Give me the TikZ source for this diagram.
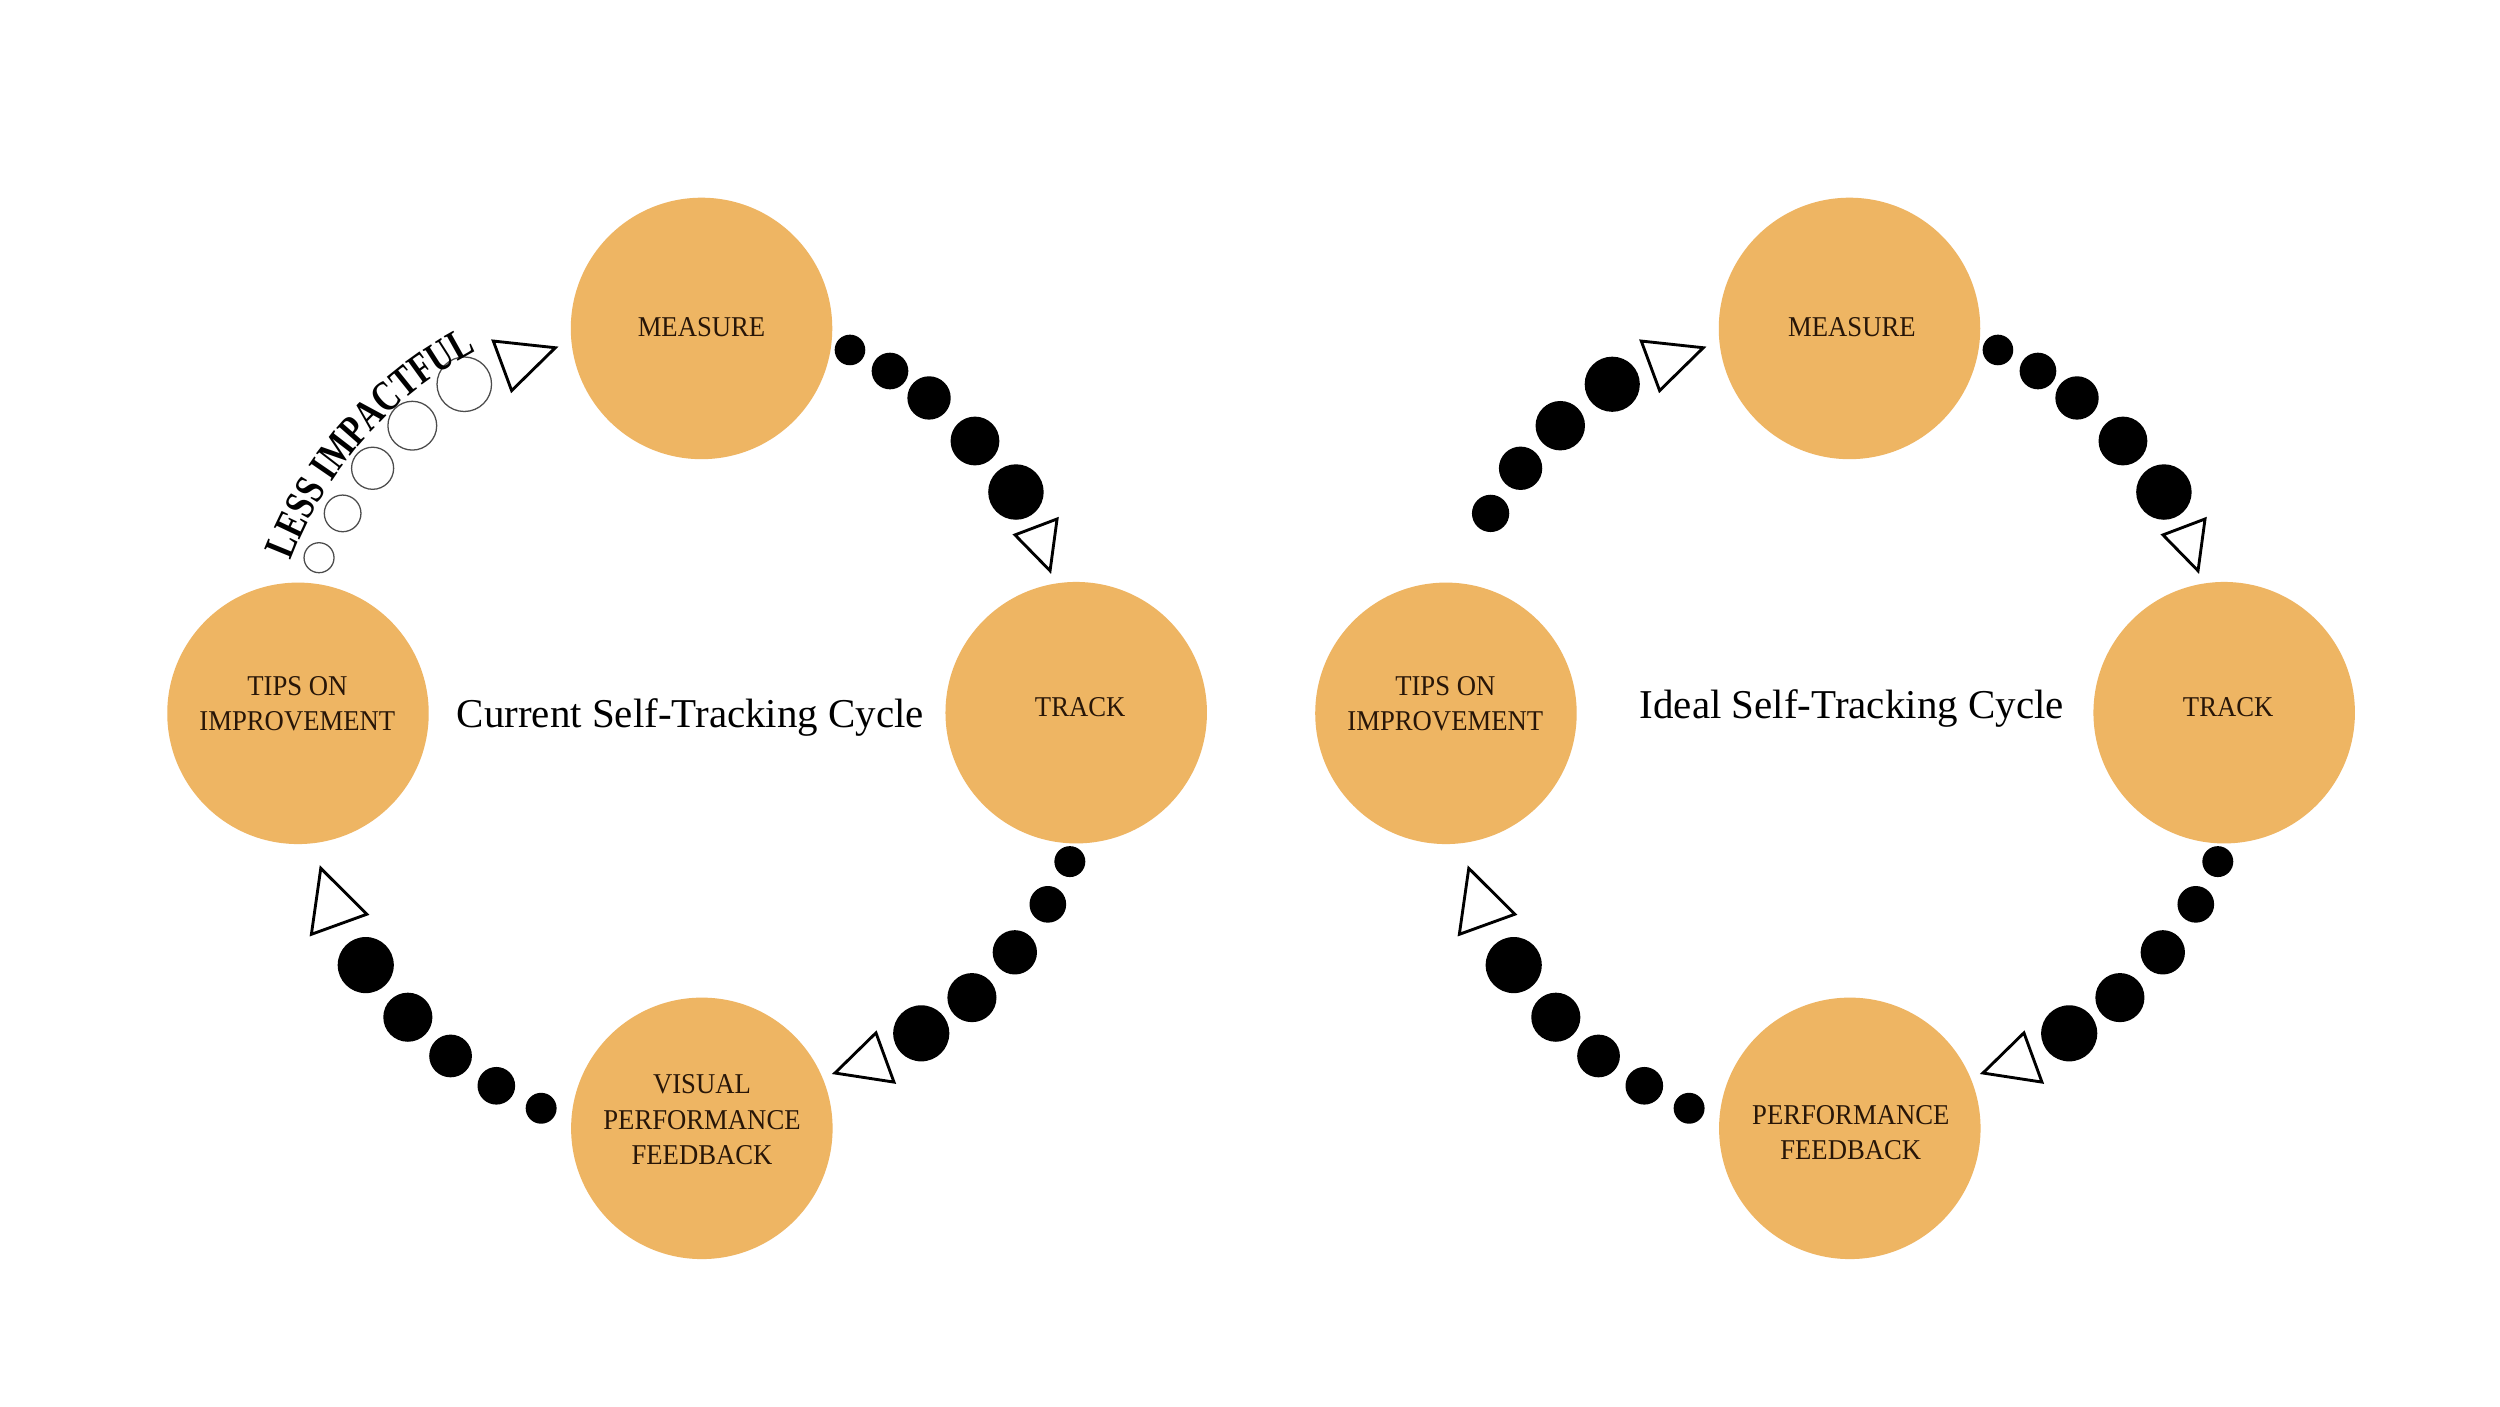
\documentclass[tikz,border=0pt]{standalone}
\usepackage{fontspec}
\setmainfont{Liberation Serif}
\newfontfamily\lblfont[FakeStretch=0.93]{Liberation Serif}
\newfontfamily\lessfont[FakeStretch=0.76]{Liberation Serif}
\usetikzlibrary{decorations.text}
\definecolor{orangefill}{RGB}{238,181,99}
\definecolor{lbltext}{RGB}{40,22,8}
\tikzset{
  stage/.style={circle, fill=orangefill, draw=none, minimum size=164pt, inner sep=0pt},
  lbl/.style={font=\lblfont\fontsize{18}{22.4}\selectfont, text=lbltext, align=center, inner sep=0pt},
  ttl/.style={font=\fontsize{25.7}{30}\selectfont, text=black, inner sep=0pt, anchor=base},
  blob/.style={fill=black},
  hollow/.style={draw=black!70, line width=0.8pt, fill=white},
  tri/.style={draw=black, line width=1.8pt, fill=white, line join=miter},
}
\newcommand\cycledots{%
  % MEASURE -> TRACK
  \fill[blob] (533.1,219.5) circle[radius=9.6pt];
  \fill[blob] (558.2,232.7) circle[radius=11.5pt];
  \fill[blob] (582.7,249.6) circle[radius=13.6pt];
  \fill[blob] (611.5,276.6) circle[radius=15.3pt];
  \fill[blob] (637.2,308.6) circle[radius=17.4pt];
  \draw[tri] (636.6,335.5) -- (663,325.5) -- (658.6,358) -- cycle;
  % TRACK -> FEEDBACK
  \fill[blob] (671,540.4) circle[radius=9.7pt];
  \fill[blob] (657.2,567.2) circle[radius=11.5pt];
  \fill[blob] (636.5,597.3) circle[radius=13.9pt];
  \fill[blob] (609.6,625.7) circle[radius=15.4pt];
  \fill[blob] (577.8,648.1) circle[radius=17.6pt];
  \draw[tri] (523.7,673) -- (549.4,647.8) -- (560.7,678.7) -- cycle;
  % FEEDBACK -> TIPS
  \fill[blob] (339.4,695.1) circle[radius=9.7pt];
  \fill[blob] (311.3,681) circle[radius=11.8pt];
  \fill[blob] (282.6,662.3) circle[radius=13.4pt];
  \fill[blob] (255.8,638) circle[radius=15.4pt];
  \fill[blob] (229.4,605.3) circle[radius=17.6pt];
  \draw[tri] (201.2,544.6) -- (230.1,573.4) -- (195.3,586) -- cycle;
  % TIPS -> MEASURE arrow head
  \draw[tri] (309.4,213.9) -- (348.3,218.1) -- (320.9,245) -- cycle;
}
\begin{document}
\begin{tikzpicture}[x=1pt,y=-1pt]
\useasboundingbox (0,0) rectangle (1568,882);
\fill[white] (0,0) rectangle (1568,882);

% ---------------- left cycle ----------------
\node[stage] (LM) at (440,206) {};
\node[stage] (LT) at (675,447) {};
\node[stage] (LV) at (440.2,707.7) {};
\node[stage] (LI) at (186.9,447.4) {};
\node[lbl] (LMt) at (440,205.4) {MEASURE};
\node[lbl] (LTt) at (677.5,443.4) {TRACK};
\node[lbl] (LIt) at (186.5,441.4) {TIPS ON\\IMPROVEMENT};
\node[lbl] (LVt) at (440.3,702.4) {VISUAL\\PERFORMANCE\\FEEDBACK};
\node[ttl] (Ltitle) at (433,456.4) {Current Self-Tracking Cycle};
\cycledots
\draw[hollow] (200.1,349.8) circle[radius=9.4pt];
\draw[hollow] (214.9,322) circle[radius=11.5pt];
\draw[hollow] (233.7,293.7) circle[radius=13.2pt];
\draw[hollow] (258.6,267) circle[radius=15.3pt];
\draw[hollow] (291.2,241) circle[radius=17.1pt];
\coordinate (lessA) at (170.35,395.91);
\coordinate (lessB) at (341.38,202.6);
\path[decorate, decoration={text along path, text align={align=center},
   text={|\lessfont\bfseries\fontsize{27}{30}\selectfont|LESS IMPACTFUL}}]
   (lessA) .. controls (186.48,304.42) and (252.54,229.76) .. (lessB);

% ---------------- right cycle ----------------
\node[stage] (RM) at (1160,206) {};
\node[stage] (RT) at (1395,447) {};
\node[stage] (RV) at (1160.2,707.7) {};
\node[stage] (RI) at (906.9,447.4) {};
\node[lbl] (RMt) at (1161.5,205.1) {MEASURE};
\node[lbl] (RTt) at (1397.5,443.4) {TRACK};
\node[lbl] (RIt) at (906.5,441.4) {TIPS ON\\IMPROVEMENT};
\node[lbl] (RVt) at (1160.8,710.3) {PERFORMANCE\\FEEDBACK};
\node[ttl] (Rtitle) at (1161.4,450.5) {Ideal Self-Tracking Cycle};
\begin{scope}[xshift=720pt]
\cycledots
\fill[blob] (214.9,322) circle[radius=11.7pt];
\fill[blob] (233.7,293.7) circle[radius=13.6pt];
\fill[blob] (258.6,267) circle[radius=15.5pt];
\fill[blob] (291.2,241) circle[radius=17.3pt];
\end{scope}
\end{tikzpicture}
\end{document}
